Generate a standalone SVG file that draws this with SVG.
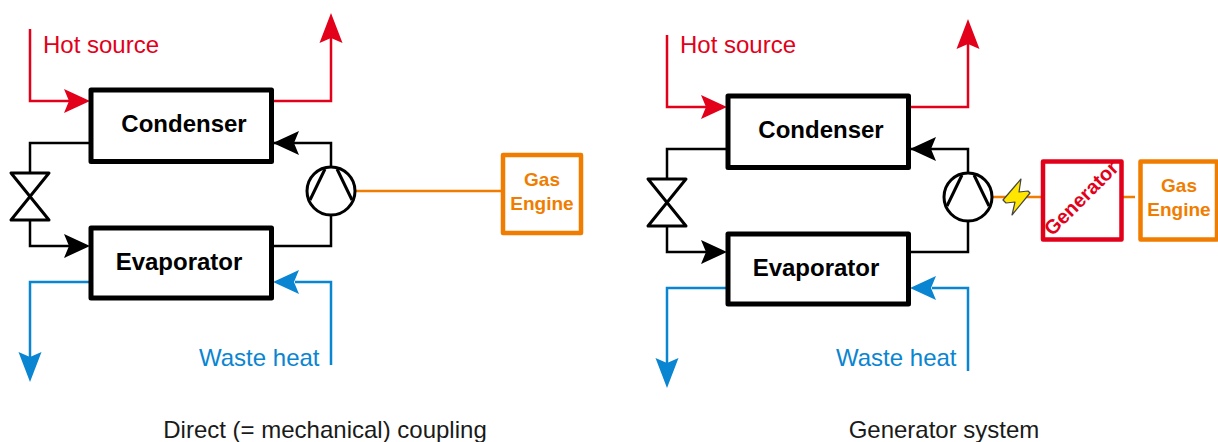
<svg xmlns="http://www.w3.org/2000/svg" width="1218" height="442" viewBox="0 0 1218 442">
<style>
text{font-family:"Liberation Sans",Arial,sans-serif}
.box{fill:#fff;stroke:#000;stroke-width:5;stroke-linejoin:round}
.t{font-size:24px;font-weight:700;fill:#000;text-anchor:middle}
.l{font-size:24px}
.cap{font-size:24px;fill:#1a1a1a;text-anchor:middle}
.r{fill:none;stroke:#e2001a;stroke-width:2.5}
.b{fill:none;stroke:#0a85d1;stroke-width:2.5}
.k{fill:none;stroke:#000;stroke-width:2.5}
.o{fill:none;stroke:#f07d00;stroke-width:2.5}
.sym{fill:#fff;stroke:#000;stroke-width:3;stroke-linejoin:round}
.eng{fill:#fff;stroke:#f07d00;stroke-width:4.5;stroke-linejoin:round}
.et{font-size:19px;font-weight:700;fill:#f07d00;text-anchor:middle}
</style>
<defs>
<path id="ah" d="M0 0L-26 -12L-21 0L-26 12Z"/>
<path id="av" d="M0 0L-11.5 30L0 25L11.5 30Z"/>
<g id="pump"><circle r="24" class="sym"/><path fill="none" stroke="#000" stroke-width="3" d="M-6 -22L-21 9M6 -22L21 9"/></g>
<path id="valve" class="sym" d="M-19 -24H19L-19 23H19Z"/>
</defs>
<g id="connectors">
<path class="r" d="M30 29V101H70M273 101H331V38"/>
<path class="k" d="M90 143H30V175M30 219V246H70M273 143H331V168M331 215V246H273"/>
<path class="b" d="M90 282H30V357M331 365V282H295"/>
<path class="o" d="M355 191H502"/>
<use href="#ah" x="90" y="101" fill="#e2001a"/>
<use href="#av" x="331" y="13" fill="#e2001a"/>
<use href="#ah" x="90" y="246" fill="#000"/>
<use href="#ah" x="273" y="143" fill="#000" transform="rotate(180 273 143)"/>
<use href="#ah" x="273" y="282" fill="#0a85d1" transform="rotate(180 273 282)"/>
<use href="#av" x="30" y="382" fill="#0a85d1" transform="rotate(180 30 382)"/>
<path class="r" d="M667 35V107H707M910 107H968V44"/>
<path class="k" d="M727 149H667V181M667 225V252H707M910 149H968V174M968 221V252H910"/>
<path class="b" d="M727 288H667V363M968 371V288H932"/>
<path class="o" d="M992 197H1042M1122 197H1135"/>
<use href="#ah" x="727" y="107" fill="#e2001a"/>
<use href="#av" x="968" y="19" fill="#e2001a"/>
<use href="#ah" x="727" y="252" fill="#000"/>
<use href="#ah" x="910" y="149" fill="#000" transform="rotate(180 910 149)"/>
<use href="#ah" x="910" y="288" fill="#0a85d1" transform="rotate(180 910 288)"/>
<use href="#av" x="667" y="388" fill="#0a85d1" transform="rotate(180 667 388)"/>
</g>
<g id="condenser-left"><rect class="box" x="91" y="90" width="180.5" height="71.5"/><text class="t" x="184" y="131.500">Condenser</text></g>
<g id="evaporator-left"><rect class="box" x="91" y="228" width="180.5" height="70"/><text class="t" x="179" y="270">Evaporator</text></g>
<g id="valve-left"><use href="#valve" x="30" y="197"/></g>
<g id="compressor-left"><use href="#pump" x="331" y="191"/></g>
<g id="engine-left"><rect class="eng" x="503" y="155" width="78" height="78"/><text class="et" x="542" y="186">Gas</text><text class="et" x="542" y="210">Engine</text></g>
<g id="condenser-right"><rect class="box" x="728" y="96" width="180.5" height="71.5"/><text class="t" x="821" y="137.500">Condenser</text></g>
<g id="evaporator-right"><rect class="box" x="728" y="234" width="180.5" height="70"/><text class="t" x="816" y="276">Evaporator</text></g>
<g id="valve-right"><use href="#valve" x="667" y="203"/></g>
<g id="compressor-right"><use href="#pump" x="968" y="197"/></g>
<g id="bolt"><path d="M1021 179L1003 200L1006 203L1015 202L1012 215L1030 193L1028 191L1019 192Z" fill="#ffe600" stroke="#444" stroke-width="1.2" stroke-linejoin="round"/></g>
<g id="generator"><rect x="1043" y="161.500" width="78.500" height="78" fill="#fff" stroke="#e2001a" stroke-width="4.500" stroke-linejoin="round"/><text x="1081" y="205" font-size="20" font-weight="700" fill="#e2001a" text-anchor="middle" transform="rotate(-45 1081 198)">Generator</text></g>
<g id="engine-right"><rect class="eng" x="1140.500" y="161.500" width="76.500" height="78"/><text class="et" x="1179" y="192">Gas</text><text class="et" x="1179" y="216">Engine</text></g>
<g id="labels">
<text class="l" x="43" y="53" fill="#e2001a">Hot source</text>
<text class="l" x="680" y="53" fill="#e2001a">Hot source</text>
<text class="l" x="199" y="366" fill="#0a85d1">Waste heat</text>
<text class="l" x="836" y="366" fill="#0a85d1">Waste heat</text>
<text class="cap" x="325" y="438">Direct (= mechanical) coupling</text>
<text class="cap" x="944" y="438">Generator system</text>
</g>
</svg>
